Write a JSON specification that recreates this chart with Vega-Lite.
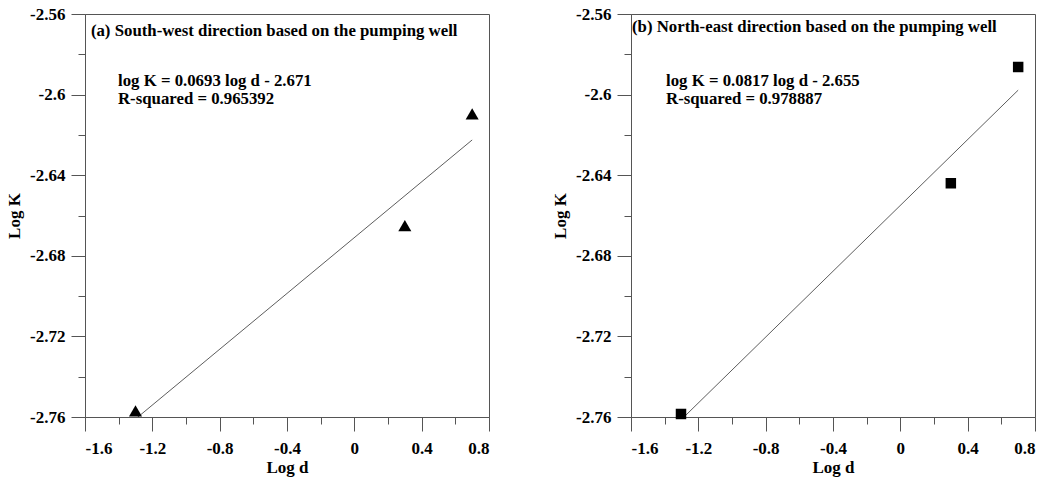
{
  "$schema": "https://vega.github.io/schema/vega-lite/v6.json",
  "padding": {"left": 5, "top": 4, "right": 5, "bottom": 2},
  "background": "white",
  "spacing": 142,
  "bounds": "flush",
  "config": {
    "view": {"stroke": "#555", "strokeWidth": 1},
    "font": "Liberation Serif",
    "axis": {
      "domainColor": "#555",
      "tickColor": "#555",
      "grid": false,
      "labelFont": "Liberation Serif",
      "labelFontWeight": "bold",
      "labelFontSize": 17,
      "labelColor": "black",
      "titleFont": "Liberation Serif",
      "titleFontWeight": "bold",
      "titleFontSize": 17,
      "titleColor": "black"
    }
  },
  "datasets": {
    "a_pts": [
      {"x": -1.3, "y": -2.757},
      {"x": 0.3, "y": -2.665},
      {"x": 0.7, "y": -2.6096}
    ],
    "a_fit": [
      {"x": -1.3, "y": -2.761},
      {"x": 0.7, "y": -2.6225}
    ],
    "a_txt": [
      {"x": -1.565, "y": -2.5708, "label": "(a) South-west direction based on the pumping well"},
      {"x": -1.404, "y": -2.5957, "label": "log K = 0.0693 log d - 2.671"},
      {"x": -1.404, "y": -2.6047, "label": "R-squared = 0.965392"}
    ],
    "b_pts": [
      {"x": -1.303, "y": -2.7585},
      {"x": 0.3, "y": -2.644},
      {"x": 0.7, "y": -2.5863}
    ],
    "b_fit": [
      {"x": -1.3, "y": -2.7612},
      {"x": 0.7, "y": -2.5978}
    ],
    "b_txt": [
      {"x": -1.594, "y": -2.5688, "label": "(b) North-east direction based on the pumping well"},
      {"x": -1.392, "y": -2.5957, "label": "log K = 0.0817  log d - 2.655"},
      {"x": -1.392, "y": -2.6047, "label": "R-squared = 0.978887"}
    ]
  },
  "hconcat": [
    {
      "width": 404,
      "height": 403,
      "encoding": {
        "x": {
          "field": "x", "type": "quantitative",
          "scale": {"domain": [-1.6, 0.8], "nice": false, "zero": false},
          "axis": {
            "title": "Log d",
            "values": [-1.6, -1.4, -1.2, -1.0, -0.8, -0.6, -0.4, -0.2, 0, 0.2, 0.4, 0.6, 0.8],
            "labelExpr": "abs(round(datum.value*10)) % 4 == 0 ? '' + datum.value : ''",
            "tickSize": {"condition": {"test": "abs(round(datum.value*10)) % 4 == 0", "value": 14}, "value": 7},
            "labelPadding": 9,
            "titlePadding": 3
          }
        },
        "y": {
          "field": "y", "type": "quantitative",
          "scale": {"domain": [-2.76, -2.56], "nice": false, "zero": false},
          "axis": {
            "title": "Log K",
            "values": [-2.76, -2.74, -2.72, -2.7, -2.68, -2.66, -2.64, -2.62, -2.6, -2.58, -2.56],
            "labelExpr": "abs(round(datum.value*100)) % 4 == 0 ? '' + datum.value : ''",
            "tickSize": {"condition": {"test": "abs(round(datum.value*100)) % 4 == 0", "value": 14}, "value": 7},
            "labelPadding": 6,
            "titlePadding": 6
          }
        }
      },
      "layer": [
        {"data": {"name": "a_fit"}, "mark": {"type": "line", "color": "#333", "strokeWidth": 0.8, "clip": true}},
        {"data": {"name": "a_pts"}, "mark": {"type": "point", "shape": "triangle-up", "filled": true, "color": "black", "opacity": 1, "size": 170}},
        {"data": {"name": "a_txt"}, "mark": {"type": "text", "align": "left", "baseline": "alphabetic", "font": "Liberation Serif", "fontWeight": "bold", "fontSize": 16.8, "color": "black"}, "encoding": {"text": {"field": "label"}}}
      ]
    },
    {
      "width": 404,
      "height": 403,
      "encoding": {
        "x": {
          "field": "x", "type": "quantitative",
          "scale": {"domain": [-1.6, 0.8], "nice": false, "zero": false},
          "axis": {
            "title": "Log d",
            "values": [-1.6, -1.4, -1.2, -1.0, -0.8, -0.6, -0.4, -0.2, 0, 0.2, 0.4, 0.6, 0.8],
            "labelExpr": "abs(round(datum.value*10)) % 4 == 0 ? '' + datum.value : ''",
            "tickSize": {"condition": {"test": "abs(round(datum.value*10)) % 4 == 0", "value": 14}, "value": 7},
            "labelPadding": 9,
            "titlePadding": 3
          }
        },
        "y": {
          "field": "y", "type": "quantitative",
          "scale": {"domain": [-2.76, -2.56], "nice": false, "zero": false},
          "axis": {
            "title": "Log K",
            "values": [-2.76, -2.74, -2.72, -2.7, -2.68, -2.66, -2.64, -2.62, -2.6, -2.58, -2.56],
            "labelExpr": "abs(round(datum.value*100)) % 4 == 0 ? '' + datum.value : ''",
            "tickSize": {"condition": {"test": "abs(round(datum.value*100)) % 4 == 0", "value": 14}, "value": 7},
            "labelPadding": 6,
            "titlePadding": 6
          }
        }
      },
      "layer": [
        {"data": {"name": "b_fit"}, "mark": {"type": "line", "color": "#333", "strokeWidth": 0.8, "clip": true}},
        {"data": {"name": "b_pts"}, "mark": {"type": "square", "filled": true, "color": "black", "opacity": 1, "size": 110}},
        {"data": {"name": "b_txt"}, "mark": {"type": "text", "align": "left", "baseline": "alphabetic", "font": "Liberation Serif", "fontWeight": "bold", "fontSize": 16.8, "color": "black"}, "encoding": {"text": {"field": "label"}}}
      ]
    }
  ]
}
